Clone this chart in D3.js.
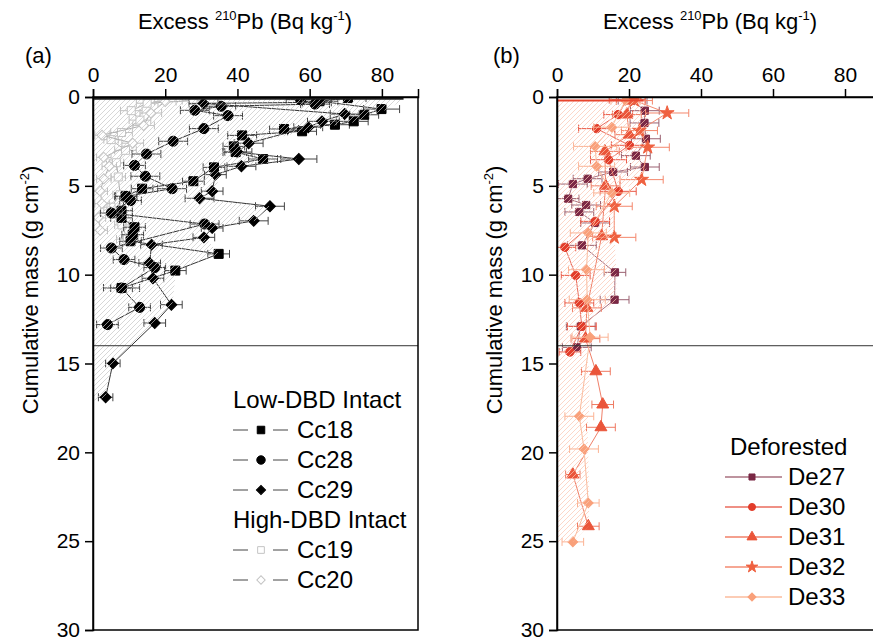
<!DOCTYPE html>
<html>
<head>
<meta charset="utf-8">
<script src="https://cdn.jsdelivr.net/npm/d3@7"></script>
<style>
  body { margin: 0; background: #fff; }
  svg { font-family: "Liberation Sans", Arial, sans-serif; }
</style>
</head>
<body>
<svg id="chart" width="873" height="641"></svg>
<script>
// axis ticks
const xTicks = [0, 20, 40, 60, 80];
const yTicks = [0, 5, 10, 15, 20, 25, 30];

// each point: [cumulative mass (g cm-2), excess 210Pb (Bq kg-1), error]
const cc18 = [[0.06,70.6,5],[0.24,62.8,5],[0.68,79.9,5],[1.0,75.1,4],[1.37,72.2,4],[1.56,67,4],[1.8,52.9,4],[1.93,57.9,4],[2.16,41.3,4],[2.78,39,3],[3.1,39.5,3],[3.49,47.1,4],[3.96,33.5,3],[4.74,27.8,3],[5.16,13.6,3],[5.59,9,3],[6.4,7.9,3],[6.8,7.9,3],[7.33,11.5,3],[7.75,11,3],[8.12,10.4,3],[8.83,34.8,3],[9.77,22.8,3],[10.75,7.9,5]];
const cc28 = [[0.15,57.5,4],[0.4,61.5,4],[0.52,35.5,4],[0.75,28.2,4],[1.05,37.4,4],[1.78,30.7,4],[2.49,22.2,4],[3.21,14.8,4],[3.85,11.5,3],[4.46,14.5,4],[5.16,21.9,4],[5.59,9.2,3],[5.83,10.4,3],[6.53,5.1,3],[7.15,30.9,4],[8.5,5.1,3],[9.15,8.6,3],[9.6,17.1,3],[10.75,7.9,3],[11.84,12.9,3],[12.81,4,3]];
const cc29 = [[0.3,62,4],[0.36,30.6,4],[0.96,69.7,4],[1.37,63.4,4],[1.7,59.6,4],[2.6,43.1,4],[3.1,40,4],[3.49,57,5],[3.9,41.1,4],[4.37,33.9,3],[5.3,33,3],[5.7,29.5,4],[6.15,49,4],[6.97,44.5,4],[7.37,33,3],[7.9,30.7,3],[8.31,16.2,3],[9.34,15.7,3],[10.2,16.6,3],[11.69,21.7,3],[12.72,17.1,3],[14.99,5.5,2],[16.9,3.5,2]];
const cc19 = [[0.2,27.7,3],[0.35,15,3],[0.77,10.6,3],[1.3,13,3],[2.0,7.9,3],[2.4,5,2],[3.0,9,3],[3.7,6.5,2],[4.5,7,2],[5.5,7.5,2],[6.2,5,2],[7.2,8,2],[8.0,9.5,3]];
const cc20 = [[0.25,20,3],[0.9,16,3],[1.6,14,3],[2.15,2.5,2],[2.6,11,3],[3.4,3,2],[3.9,4.5,2],[4.6,3,2],[5.3,2,2],[6.0,2.5,2],[6.8,1.5,2],[7.5,2,2]];

const de27 = [[0.2,21,4],[0.77,24.4,4],[1.46,24.3,4],[2.35,24.7,4],[3.3,21.9,4],[3.94,24.4,4],[4.22,15.6,4],[4.6,8.5,4],[4.9,4.4,4],[5.72,3.1,3],[6.08,8.1,4],[6.47,6.2,4],[7.09,10.6,4],[8.35,6.9,4],[9.87,16.1,3],[11.41,16,4],[12.91,6.6,4],[14.09,5.5,4]];
const de30 = [[0.15,19.5,5],[0.99,17,4],[1.78,11,5],[2.72,20.1,5],[3.53,14.3,5],[5.31,17,5],[7.0,10.6,4],[8.46,2.2,3],[10.04,5.2,4],[11.59,6.2,4],[12.91,6.9,4],[14.35,3.6,3]];
const de31 = [[0.2,20.5,4],[0.99,19.4,4],[2.12,20.1,4],[3.06,13.3,4],[5.0,13.5,4],[7.84,12.4,4],[11.87,8.3,4],[13.6,7.9,4],[15.44,10.8,4],[17.31,12.7,3],[18.59,12.2,4],[21.25,4.4,2],[24.16,8.7,3]];
const de32 = [[0.2,21.5,5],[0.9,30.6,6],[1.89,22.9,5],[2.83,25.2,6],[4.65,23.5,6],[6.15,15.9,5],[7.9,15.9,6]];
const de33 = [[0.2,19,4],[1.7,15.2,5],[2.78,10.6,6],[3.9,11,5],[5.4,15.2,5],[7.65,8.7,5],[9.72,8.2,5],[11.41,8.4,5],[13.52,9.2,5],[17.97,6.2,4],[19.81,7.5,4],[22.85,8.7,3],[25.04,4.4,3]];

// outline of the hatched inventory area: [depth, value]
const hatchA = [[0.1,0],[0.1,86],[0.68,82],[1.0,77],[1.37,74],[1.56,68],[1.93,59],[2.6,44],[3.1,41],[3.49,57],[3.9,42],[4.37,35],[5.3,34],[5.7,30],[6.15,49],[6.97,45],[7.37,34],[7.9,31],[8.83,35],[9.77,23],[11.69,22],[12.72,17],[15.0,5.5],[16.9,3.5],[17.1,0]];
const hatchB = [[0.2,0],[0.2,24],[0.77,25],[1.46,25],[2.35,25.5],[3.3,23],[3.94,25],[4.65,23.5],[5.3,17.5],[6.15,16],[7.9,16],[9.87,16.5],[11.41,16.5],[12.91,8],[14.1,8],[15.44,9],[17.31,9],[18.59,8.5],[22.85,9],[24.16,8.7],[25.04,4.4],[25.1,0]];

const boundary = 14;

const seriesA = [
  { name: "Cc19", data: cc19, shape: "square", fill: "#fff", stroke: "#c4c4c4", line: "#b0b0b0", err: "#c0c0c0", size: 64 },
  { name: "Cc20", data: cc20, shape: "diamond", fill: "#fff", stroke: "#c4c4c4", line: "#b0b0b0", err: "#c0c0c0", size: 50 },
  { name: "Cc18", data: cc18, shape: "square", fill: "#000", stroke: "#000", line: "#333", err: "#444", size: 81 },
  { name: "Cc28", data: cc28, shape: "circle", fill: "#000", stroke: "#000", line: "#333", err: "#444", size: 80 },
  { name: "Cc29", data: cc29, shape: "diamond", fill: "#000", stroke: "#000", line: "#333", err: "#444", size: 60 }
];
const seriesB = [
  { name: "De27", data: de27, shape: "square", fill: "#7a2845", stroke: "#7a2845", line: "#a8707f", err: "#9a6070", size: 52 },
  { name: "De30", data: de30, shape: "circle", fill: "#e23c2a", stroke: "#e23c2a", line: "#ea6b5c", err: "#ea5a48", size: 56 },
  { name: "De31", data: de31, shape: "triangle", fill: "#ea553a", stroke: "#ea553a", line: "#f08069", err: "#ef7a62", size: 62 },
  { name: "De32", data: de32, shape: "star", fill: "#ef6140", stroke: "#ef6140", line: "#f38a70", err: "#f4876c", size: 60 },
  { name: "De33", data: de33, shape: "diamond", fill: "#f9a07a", stroke: "#f9a07a", line: "#fbbb9c", err: "#fbb394", size: 46 }
];

const legendA = [
  { header: "Low-DBD Intact" },
  { name: "Cc18" }, { name: "Cc28" }, { name: "Cc29" },
  { header: "High-DBD Intact" },
  { name: "Cc19" }, { name: "Cc20" }
];
const legendB = [
  { header: "Deforested" },
  { name: "De27" }, { name: "De30" }, { name: "De31" }, { name: "De32" }, { name: "De33" }
];

const svg = d3.select("#chart");
const defs = svg.append("defs");

function makeHatch(id, color) {
  const p = defs.append("pattern")
    .attr("id", id)
    .attr("patternUnits", "userSpaceOnUse")
    .attr("width", 5)
    .attr("height", 5);
  p.append("path")
    .attr("d", "M-1,1 l2,-2 M0,5 l5,-5 M4,6 l2,-2")
    .attr("stroke", color)
    .attr("stroke-width", 0.7);
}
makeHatch("hatchGrey", "#c6c6c6");
makeHatch("hatchRed", "#fac6b2");

function symbolPath(shape, size) {
  const types = {
    square: d3.symbolSquare,
    circle: d3.symbolCircle,
    triangle: d3.symbolTriangle,
    star: d3.symbolStar,
    diamond: d3.symbolSquare
  };
  return d3.symbol().type(types[shape]).size(size)();
}

const y = d3.scaleLinear().domain([0, 30]).range([97, 630]);

const panels = [
  { key: "a", left: 93, width: 325, series: seriesA, hatch: hatchA, hatchId: "hatchGrey", hatchTop: "#222",
    tag: "(a)", tagX: 25, titleX: 245, yTitleX: 30, legend: legendA, legX: 233, legY: 400, legStep: 30, gap: true },
  { key: "b", left: 557, width: 324, series: seriesB, hatch: hatchB, hatchId: "hatchRed", hatchTop: "#e8452e",
    tag: "(b)", tagX: 493, titleX: 710, yTitleX: 494, legend: legendB, legX: 725, legY: 447, legStep: 30, gap: false }
];

panels.forEach(p => {
  const x = d3.scaleLinear().domain([0, 90]).range([p.left, p.left + p.width]);
  const g = svg.append("g").attr("id", "panel-" + p.key);

  defs.append("clipPath").attr("id", "clip-" + p.key)
    .append("rect")
    .attr("x", p.left).attr("y", y(0))
    .attr("width", p.width).attr("height", y(30) - y(0));

  const plot = g.append("g").attr("clip-path", `url(#clip-${p.key})`);

  // series lines, error bars and markers
  p.series.forEach(s => {
    const line = d3.line().x(d => x(d[1])).y(d => y(d[0]));
    plot.append("path")
      .datum(s.data)
      .attr("d", line)
      .attr("fill", "none")
      .attr("stroke", s.line)
      .attr("stroke-width", 1);

    const eb = plot.append("g").attr("stroke", s.err).attr("stroke-width", 1).attr("fill", "none");
    eb.selectAll("path")
      .data(s.data)
      .join("path")
      .attr("d", d => {
        const x0 = x(d[1] - d[2]), x1 = x(d[1] + d[2]), yy = y(d[0]);
        return `M${x0},${yy}H${x1}M${x0},${yy - 4}V${yy + 4}M${x1},${yy - 4}V${yy + 4}`;
      });

    plot.append("g")
      .selectAll("path")
      .data(s.data)
      .join("path")
      .attr("d", symbolPath(s.shape, s.size))
      .attr("transform", d => `translate(${x(d[1])},${y(d[0])})` + (s.shape === "diamond" ? " rotate(45)" : ""))
      .attr("fill", s.fill)
      .attr("stroke", s.stroke)
      .attr("stroke-width", 1);
  });

  // hatched area drawn over the profiles
  const area = d3.line().x(d => x(d[1])).y(d => y(d[0]));
  plot.append("path")
    .datum(p.hatch)
    .attr("d", area(p.hatch) + "Z")
    .attr("fill", `url(#${p.hatchId})`)
    .attr("stroke", "none");
  plot.append("path")
    .datum(p.hatch.slice(0, 2))
    .attr("d", area)
    .attr("stroke", p.hatchTop)
    .attr("stroke-width", 2)
    .attr("fill", "none");

  // boundary line at 14 g cm-2
  g.append("line")
    .attr("x1", p.left).attr("x2", p.left + p.width)
    .attr("y1", y(boundary)).attr("y2", y(boundary))
    .attr("stroke", "#333").attr("stroke-width", 1);

  // frame
  g.append("rect")
    .attr("x", p.left).attr("y", y(0))
    .attr("width", p.width).attr("height", y(30) - y(0))
    .attr("fill", "none").attr("stroke", "#000").attr("stroke-width", 1.5);

  const topAxis = g.append("g")
    .attr("transform", `translate(0,${y(0)})`)
    .call(d3.axisTop(x).tickValues(xTicks).tickSize(8).tickPadding(7));
  const leftAxis = g.append("g")
    .attr("transform", `translate(${p.left},0)`)
    .call(d3.axisLeft(y).tickValues(yTicks).tickSize(8).tickPadding(5));
  [topAxis, leftAxis].forEach(a => {
    a.select(".domain").attr("stroke-width", 1.5);
    a.selectAll(".tick line").attr("stroke-width", 1.5);
    a.selectAll("text").attr("font-size", 21).attr("fill", "#000")
      .style("font-family", '"Liberation Sans", Arial, sans-serif');
  });

  // titles
  const title = g.append("text")
    .attr("x", p.titleX).attr("y", 29)
    .attr("text-anchor", "middle")
    .attr("font-size", 22);
  title.append("tspan").text("Excess ");
  title.append("tspan").attr("font-size", 13).attr("dy", -9).text("210");
  title.append("tspan").attr("dy", 9).text("Pb (Bq kg");
  title.append("tspan").attr("font-size", 13).attr("dy", -9).text("-1");
  title.append("tspan").attr("dy", 9).text(")");

  g.append("text")
    .attr("x", p.tagX).attr("y", 63)
    .attr("font-size", 22)
    .text(p.tag);

  const yTitle = g.append("text")
    .attr("transform", `translate(${p.yTitleX},290) rotate(-90)`)
    .attr("text-anchor", "middle")
    .attr("dy", "0.35em")
    .attr("font-size", 22);
  yTitle.append("tspan").text("Cumulative mass (g cm");
  yTitle.append("tspan").attr("font-size", 13).attr("dy", -9).text("-2");
  yTitle.append("tspan").attr("dy", 9).text(")");

  // legend
  const leg = g.append("g");
  p.legend.forEach((item, i) => {
    const ly = p.legY + i * p.legStep;
    if (item.header) {
      leg.append("text")
        .attr("x", p.legX + (p.gap ? 0 : 5)).attr("y", ly)
        .attr("dy", "0.35em")
        .attr("font-size", 24)
        .text(item.header);
      return;
    }
    const s = p.series.find(d => d.name === item.name);
    const mx = p.gap ? p.legX + 28 : p.legX + 27;
    if (p.gap) {
      leg.append("path")
        .attr("d", `M${p.legX},${ly}h15M${p.legX + 40},${ly}h15`)
        .attr("stroke", "#444").attr("stroke-width", 1);
    } else {
      leg.append("path")
        .attr("d", `M${p.legX},${ly}h57`)
        .attr("stroke", s.line).attr("stroke-width", 1.5);
    }
    leg.append("path")
      .attr("d", symbolPath(s.shape, s.size * 0.7))
      .attr("transform", `translate(${mx},${ly})` + (s.shape === "diamond" ? " rotate(45)" : ""))
      .attr("fill", s.fill)
      .attr("stroke", s.stroke);
    leg.append("text")
      .attr("x", p.gap ? p.legX + 64 : p.legX + 63).attr("y", ly)
      .attr("dy", "0.35em")
      .attr("font-size", 24)
      .text(s.name);
  });
});
</script>
</body>
</html>
